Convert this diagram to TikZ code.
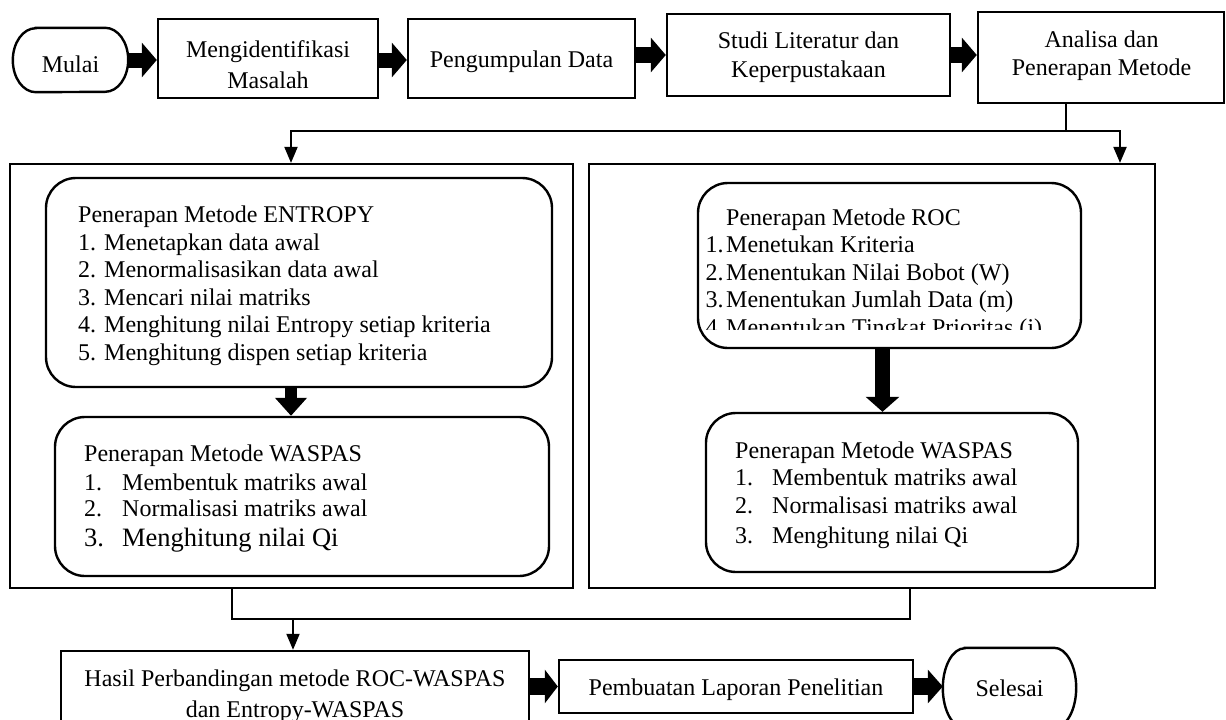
\documentclass[tikz,border=0pt]{standalone}
\usepackage{fontspec}
\setmainfont{Liberation Serif}
\usetikzlibrary{arrows.meta,calc}
\begin{document}
\begin{tikzpicture}[x=1pt,y=-1pt,
  bx/.style={draw, line width=2.4pt, inner sep=0pt},
  obx/.style={draw, line width=2.2pt, inner sep=0pt},
  rbx/.style={draw, line width=2.4pt, rounded corners=30pt, inner sep=0pt},
  ctxt/.style={font=\fontsize{24}{29}\selectfont, inner sep=0pt, anchor=base},
  lt/.style={font=\fontsize{24}{29}\selectfont, inner sep=0pt, anchor=base west},
  conn/.style={line width=2pt},
  carr/.style={line width=2pt, -{Triangle[length=16pt,width=13pt]}},
  fat/.style={line width=16pt, -{Triangle[length=15pt,width=34pt]}},
]
\useasboundingbox (0,0) rectangle (1226,720);
\clip (0,0) rectangle (1226,720);

% ---- top row ----
\node[minimum width=115pt, minimum height=64pt, inner sep=0pt] (mulai) at (70.5,60) {};
\draw[line width=2.4pt] ([xshift=23pt]mulai.north west) -- ([xshift=-23pt]mulai.north east)
  arc[start angle=90,end angle=-90,x radius=23pt,y radius=32pt]
  -- ([xshift=23pt]mulai.south west)
  arc[start angle=270,end angle=90,x radius=23pt,y radius=32pt] -- cycle;
\node[ctxt] (mulaiT) at (70.5,72) {Mulai};

\node[bx, minimum width=220pt, minimum height=79pt] (A) at (268,58.5) {};
\node[ctxt] (A1) at (268,57) {Mengidentifikasi};
\node[ctxt] (A2) at (268,88) {Masalah};

\node[bx, minimum width=227pt, minimum height=79pt] (B) at (521.5,58.5) {};
\node[ctxt] (B1) at (521.5,67) {Pengumpulan Data};

\node[bx, minimum width=283pt, minimum height=82pt] (S) at (808.5,55) {};
\node[ctxt] (S1) at (808.5,48) {Studi Literatur dan};
\node[ctxt] (S2) at (808.5,77) {Keperpustakaan};

\node[bx, minimum width=246pt, minimum height=91pt] (An) at (1101,57.5) {};
\node[ctxt] (An1) at (1101.5,47) {Analisa dan};
\node[ctxt] (An2) at (1101.5,75) {Penerapan Metode};

\draw[fat, line width=15pt] (mulai.east) -- (mulai.east -| A.west);
\draw[fat, line width=15pt] ([yshift=-1.5pt]A.east) -- ([yshift=-1.5pt]A.east -| B.west);
\draw[fat] (B.east |- S.west) -- (S.west);
\draw[fat] (S.east) -- (S.east -| An.west);

% ---- outer boxes ----
\node[obx, minimum width=563pt, minimum height=424pt] (L) at (291.5,376) {};
\node[obx, minimum width=566pt, minimum height=424pt] (R) at (872,376) {};

% ---- branch ----
\coordinate (br) at (1066,131);
\coordinate (jl) at (291,131);
\coordinate (jr) at (1120,131);
\draw[conn] (br |- An.south) -- (br);
\draw[carr] (jr) -- (jl) -- (jl |- L.north);
\draw[carr] (jl) -- (jr) -- (jr |- R.north);

% ---- left: ENTROPY ----
\node[rbx, minimum width=506pt, minimum height=209pt] (E) at (299,282.5) {};
\node[lt] (e0) at (78,222.5) {Penerapan Metode ENTROPY};
\node[lt] (e1) at (78,250) {1. Menetapkan data awal};
\node[lt] (e2) at (78,277.5) {2. Menormalisasikan data awal};
\node[lt] (e3) at (78,305) {3. Mencari nilai matriks};
\node[lt] (e4) at (78,332.5) {4. Menghitung nilai Entropy setiap kriteria};
\node[lt] (e5) at (78,360) {5. Menghitung dispen setiap kriteria};

\node[rbx, minimum width=494pt, minimum height=159pt] (W1) at (302,496.5) {};
\draw[fat, line width=12pt, -{Triangle[length=18pt,width=31pt]}] (jl |- E.south) -- (jl |- W1.north);
\node[lt] (w10) at (84,461.5) {Penerapan Metode WASPAS};
\node[lt] (w11) at (84,490) {\makebox[38pt][l]{1.}Membentuk matriks awal};
\node[lt] (w12) at (84,516.5) {\makebox[38pt][l]{2.}Normalisasi matriks awal};
\node[lt, font=\fontsize{26.5}{30}\selectfont] (w13) at (84,546.5) {\makebox[38pt][l]{3.}Menghitung nilai Qi};

% ---- right: ROC ----
\node[rbx, minimum width=383pt, minimum height=165pt] (Rc) at (889.5,265.5) {};
\node[lt] (r0) at (726,225) {Penerapan Metode ROC};
\node[lt] (r1) at (705.5,252.5) {\makebox[20.5pt][l]{1.}Menetukan Kriteria};
\node[lt] (r2) at (705.5,280) {\makebox[20.5pt][l]{2.}Menentukan Nilai Bobot (W)};
\node[lt] (r3) at (705.5,307.5) {\makebox[20.5pt][l]{3.}Menentukan Jumlah Data (m)};
\begin{scope}
\clip (700,312) rectangle (1078,329.5);
\node[lt] (r4) at (705.5,335) {\makebox[20.5pt][l]{4.}Menentukan Tingkat Prioritas (j)};
\end{scope}

\node[rbx, minimum width=372pt, minimum height=159pt] (W2) at (892,492.5) {};
\draw[fat, line width=15pt, -{Triangle[length=15pt,width=33pt]}] ([xshift=-7pt]Rc.south) -- ([xshift=-7pt]Rc.south |- W2.north);
\node[lt] (w20) at (735,458.5) {Penerapan Metode WASPAS};
\node[lt] (w21) at (735,485) {\makebox[37pt][l]{1.}Membentuk matriks awal};
\node[lt] (w22) at (735,513.5) {\makebox[37pt][l]{2.}Normalisasi matriks awal};
\node[lt] (w23) at (735,543) {\makebox[37pt][l]{3.}Menghitung nilai Qi};

% ---- bottom ----
\node[bx, minimum width=468pt, minimum height=95pt] (H) at (295,698.5) {};
\node[ctxt] (H1) at (295,686) {Hasil Perbandingan metode ROC-WASPAS};
\node[ctxt] (H2) at (295,717) {dan Entropy-WASPAS};

\node[bx, minimum width=354pt, minimum height=53pt] (P) at (736,686.5) {};
\node[ctxt] (P1) at (736,695) {Pembuatan Laporan Penelitian};

\node[minimum width=133pt, minimum height=80pt, inner sep=0pt] (sel) at (1009.5,688) {};
\draw[line width=2.4pt] ([xshift=22pt]sel.north west) -- ([xshift=-22pt]sel.north east)
  arc[start angle=90,end angle=-90,x radius=22pt,y radius=40pt]
  -- ([xshift=22pt]sel.south west)
  arc[start angle=270,end angle=90,x radius=22pt,y radius=40pt] -- cycle;
\node[ctxt] (selT) at (1009.5,696) {Selesai};

\coordinate (bl) at (232,619);
\coordinate (bm) at (293,619);
\coordinate (bR) at (910,619);
\draw[conn] (bl |- L.south) -- (bl) -- (bR) -- (bR |- R.south);
\draw[carr] (bm) -- (bm |- H.north);

\draw[fat, line width=17pt, -{Triangle[length=13pt,width=33pt]}] (H.east |- P.west) -- (P.west);
\draw[fat, line width=17pt, -{Triangle[length=15pt,width=33pt]}] (P.east) -- (P.east -| sel.west);
\end{tikzpicture}
\end{document}
